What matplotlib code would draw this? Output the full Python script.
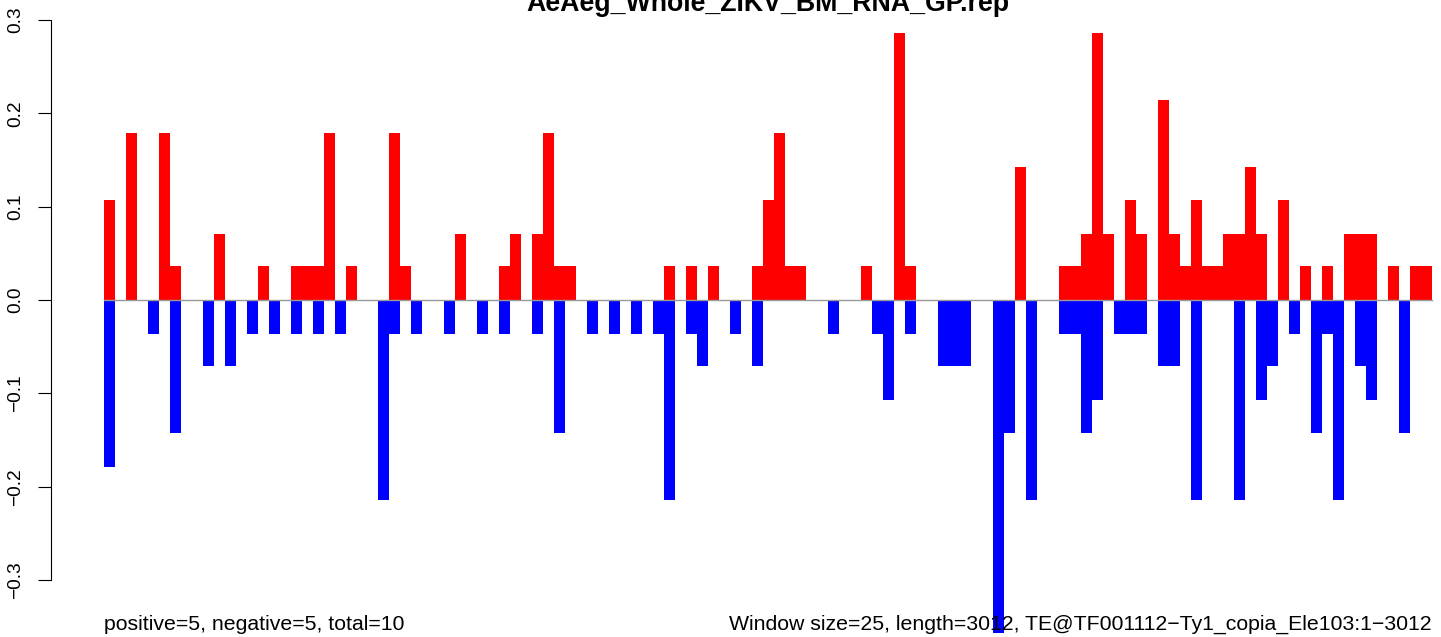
import numpy as np
import matplotlib
matplotlib.use("Agg")
import matplotlib.pyplot as plt

plt.rcParams['font.family'] = ['Liberation Sans', 'DejaVu Sans']

title = "AeAeg_Whole_ZIKV_BM_RNA_GP.rep"
left_note = "positive=5, negative=5, total=10"
right_note = "Window size=25, length=3012, TE@TF001112\u2212Ty1_copia_Ele103:1\u22123012"

# values per 25 bp window
positive = [0.107, 0, 0.179, 0, 0, 0.179, 0.036, 0, 0, 0,
            0.071, 0, 0, 0, 0.036, 0, 0, 0.036, 0.036, 0.036,
            0.179, 0, 0.036, 0, 0, 0, 0.179, 0.036, 0, 0,
            0, 0, 0.071, 0, 0, 0, 0.036, 0.071, 0, 0.071,
            0.179, 0.036, 0.036, 0, 0, 0, 0, 0, 0, 0,
            0, 0.036, 0, 0.036, 0, 0.036, 0, 0, 0, 0.036,
            0.107, 0.179, 0.036, 0.036, 0, 0, 0, 0, 0, 0.036,
            0, 0, 0.286, 0.036, 0, 0, 0, 0, 0, 0,
            0, 0, 0, 0.143, 0, 0, 0, 0.036, 0.036, 0.071,
            0.286, 0.071, 0, 0.107, 0.071, 0, 0.214, 0.071, 0.036, 0.107,
            0.036, 0.036, 0.071, 0.071, 0.143, 0.071, 0, 0.107, 0, 0.036,
            0, 0.036, 0, 0.071, 0.071, 0.071, 0, 0.036, 0, 0.036, 0.036]

negative = [-0.179, 0, 0, 0, -0.036, 0, -0.143, 0, 0, -0.071,
            0, -0.071, 0, -0.036, 0, -0.036, 0, -0.036, 0, -0.036,
            0, -0.036, 0, 0, 0, -0.214, -0.036, 0, -0.036, 0,
            0, -0.036, 0, 0, -0.036, 0, -0.036, 0, 0, -0.036,
            0, -0.143, 0, 0, -0.036, 0, -0.036, 0, -0.036, 0,
            -0.036, -0.214, 0, -0.036, -0.071, 0, 0, -0.036, 0, -0.071,
            0, 0, 0, 0, 0, 0, -0.036, 0, 0, 0,
            -0.036, -0.107, 0, -0.036, 0, 0, -0.071, -0.071, -0.071, 0,
            0, -0.357, -0.143, 0, -0.214, 0, 0, -0.036, -0.036, -0.143,
            -0.107, 0, -0.036, -0.036, -0.036, 0, -0.071, -0.071, 0, -0.214,
            0, 0, 0, -0.214, 0, -0.107, -0.071, 0, -0.036, 0,
            -0.143, -0.036, -0.214, 0, -0.071, -0.107, 0, 0, -0.143, 0, 0]

y_ticks = [-0.3, -0.2, -0.1, 0.0, 0.1, 0.2, 0.3]
y_labels = ["\u22120.3", "\u22120.2", "\u22120.1", "0.0", "0.1", "0.2", "0.3"]

n = len(positive)
x = np.arange(n)

fig = plt.figure(figsize=(14.41, 6.37), dpi=100)
ax = fig.add_axes([51 / 1441, 0, 1390 / 1441, 1])

ax.bar(x, positive, width=1, align='edge', color='#FF0000', linewidth=0)
ax.bar(x, negative, width=1, align='edge', color='#0000FF', linewidth=0)
ax.plot([0, n], [0, 0], color='#999999', linewidth=1.0)

ax.set_xlim(-4.84, n + 0.82)
ax.set_ylim(-0.3611, 0.3214)

for s in ['top', 'right', 'bottom']:
    ax.spines[s].set_visible(False)
ax.spines['left'].set_bounds(-0.3, 0.3)
ax.spines['left'].set_linewidth(0.8)

ax.set_xticks([])
ax.set_yticks(y_ticks)
ax.set_yticklabels(y_labels, rotation=90, va='center')
ax.tick_params(axis='y', length=9.5, width=0.8, labelsize=13.8, pad=10)

# title is partly above the top edge, as in the original
fig.text(768 / 1441, 1 - 11 / 637, title, ha='center', va='baseline',
         fontsize=19.3, fontweight='bold')
ax.text(0, 1 - 630 / 637, left_note, transform=ax.get_xaxis_transform(),
        ha='left', va='baseline', fontsize=15.3)
ax.text(n, 1 - 630 / 637, right_note, transform=ax.get_xaxis_transform(),
        ha='right', va='baseline', fontsize=15.3)

fig.savefig('out.png', dpi=100)
